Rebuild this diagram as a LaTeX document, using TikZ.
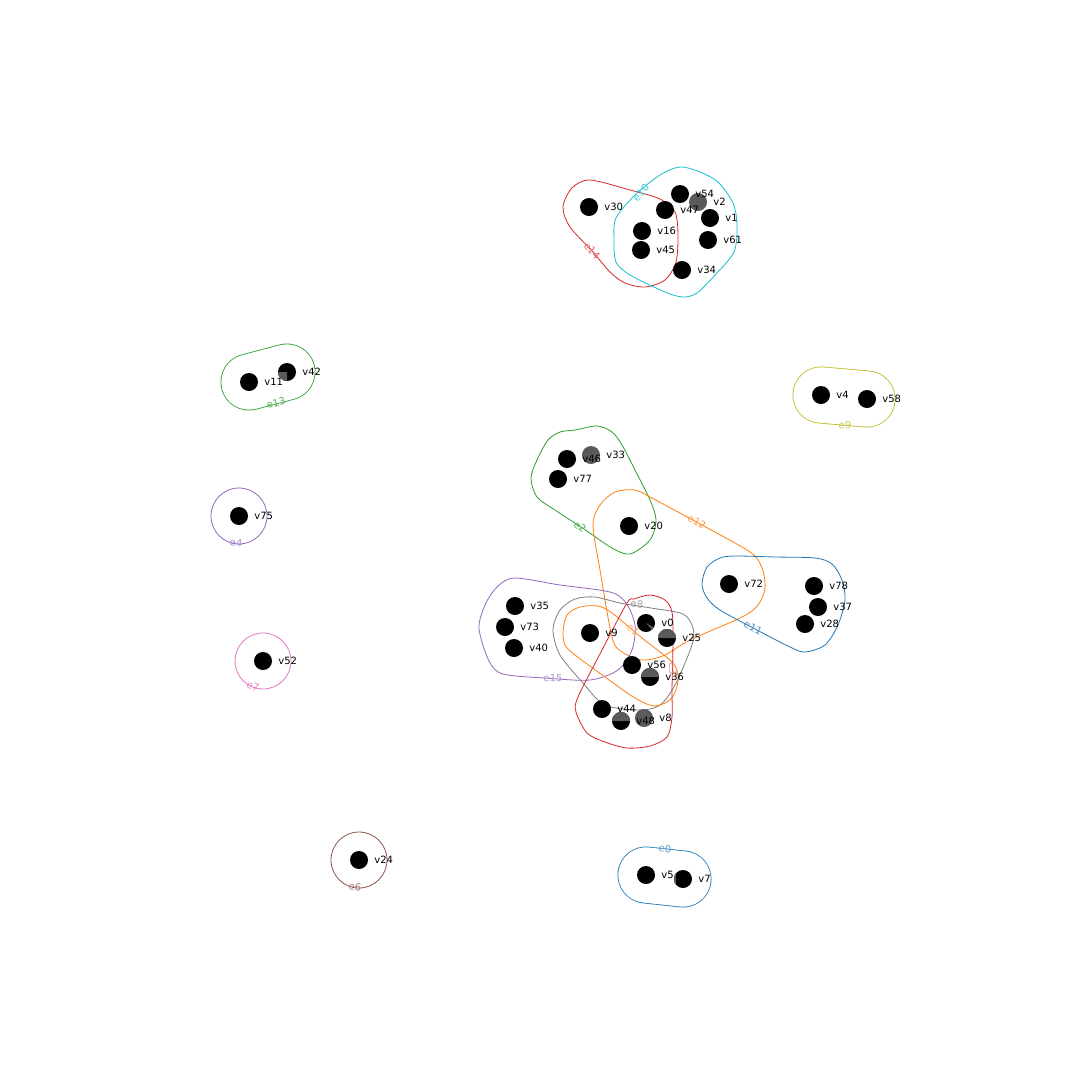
\documentclass[tikz,border=0pt]{standalone}
\usepackage{fontspec}
\setmainfont{DejaVu Sans}
\usetikzlibrary{backgrounds}
\definecolor{tblue}{HTML}{1F77B4}
\definecolor{torange}{HTML}{FF7F0E}
\definecolor{tgreen}{HTML}{2CA02C}
\definecolor{tred}{HTML}{D62728}
\definecolor{tpurple}{HTML}{9467BD}
\definecolor{tbrown}{HTML}{8C564B}
\definecolor{tpink}{HTML}{E377C2}
\definecolor{tgray}{HTML}{7F7F7F}
\definecolor{tolive}{HTML}{BCBD22}
\definecolor{tcyan}{HTML}{17BECF}
\definecolor{vgray}{HTML}{5A5A5A}
\begin{document}
\begin{tikzpicture}[x=1pt,y=-1pt,
  vtx/.style={circle,fill=black,minimum size=18pt,inner sep=0pt},
  gvtx/.style={circle,fill=vgray,minimum size=18pt,inner sep=0pt},
  vl/.style={font=\fontsize{10}{12}\selectfont,inner sep=1pt,anchor=west},
  hl/.style={font=\fontsize{10}{12}\selectfont,inner sep=0pt},
  hedge/.style={line width=0.8pt},
  stad/.style={line width=57pt,line cap=round},
  stadin/.style={line width=55.4pt,line cap=round,white}]
\useasboundingbox (0,0) rectangle (1080,1080);

% vertices
\node[vtx] (v30) at (589,207) {};
\node[vtx] (v54) at (680,194) {};
\node[gvtx] (v2) at (698,202) {};
\node[vtx] (v47) at (665,210) {};
\node[vtx] (v1) at (710,218) {};
\node[vtx] (v16) at (642,231) {};
\node[vtx] (v61) at (708,240) {};
\node[vtx] (v45) at (641,250) {};
\node[vtx] (v34) at (682,270) {};
\node[vtx] (v11) at (249,382) {};
\node[vtx] (v42) at (287,372) {};
\node[vtx] (v4) at (821,395) {};
\node[vtx] (v58) at (867,399) {};
\node[vtx] (v46) at (567,459) {};
\node[gvtx] (v33) at (591,455) {};
\node[vtx] (v77) at (558,479) {};
\node[vtx] (v75) at (239,516) {};
\node[vtx] (v20) at (629,526) {};
\node[vtx] (v72) at (729,584) {};
\node[vtx] (v78) at (814,586) {};
\node[vtx] (v37) at (818,607) {};
\node[vtx] (v28) at (805,624) {};
\node[vtx] (v35) at (515,606) {};
\node[vtx] (v73) at (505,627) {};
\node[vtx] (v40) at (514,648) {};
\node[vtx] (v9) at (590,633) {};
\node[vtx] (v0) at (646,623) {};
\node[vtx] (v25) at (667,638) {};
\node[vtx] (v56) at (632,665) {};
\node[vtx] (v36) at (650,677) {};
\node[vtx] (v44) at (602,709) {};
\node[vtx] (v48) at (621,721) {};
\node[gvtx] (v8) at (644,718) {};
\node[vtx] (v52) at (263,661) {};
\node[vtx] (v24) at (359,860) {};
\node[vtx] (v5) at (646,875) {};
\node[vtx] (v7) at (683,879) {};

% partial shading of some vertices
\fill[vgray] (v25.center) ++(-9,0) arc[start angle=180,end angle=360,radius=9] -- cycle;
\fill[vgray] (v36.center) ++(-9,0) arc[start angle=180,end angle=360,radius=9] -- cycle;
\fill[vgray] (v48.center) ++(-9,0) arc[start angle=180,end angle=360,radius=9] -- cycle;
\fill[vgray] (v42.center) -- ++(-9,0) arc[start angle=180,end angle=90,radius=9] -- cycle;
\fill[vgray] (v0.center) -- ++(30:9) arc[start angle=30,end angle=50,radius=9] -- cycle;
\fill[vgray] (v7.center) ++(-7,-6) arc[start angle=220,end angle=140,radius=9] -- cycle;

% vertex labels
\node[vl] (t30) at ([xshift=5pt]v30.east) {v30};
\node[vl] (t54) at ([xshift=5pt]v54.east) {v54};
\node[vl] (t2) at ([xshift=5pt]v2.east) {v2};
\node[vl] (t47) at ([xshift=5pt]v47.east) {v47};
\node[vl] (t1) at ([xshift=5pt]v1.east) {v1};
\node[vl] (t16) at ([xshift=5pt]v16.east) {v16};
\node[vl] (t61) at ([xshift=5pt]v61.east) {v61};
\node[vl] (t45) at ([xshift=5pt]v45.east) {v45};
\node[vl] (t34) at ([xshift=5pt]v34.east) {v34};
\node[vl] (t11) at ([xshift=5pt]v11.east) {v11};
\node[vl] (t42) at ([xshift=5pt]v42.east) {v42};
\node[vl] (t4) at ([xshift=5pt]v4.east) {v4};
\node[vl] (t58) at ([xshift=5pt]v58.east) {v58};
\node[vl] (t46) at ([xshift=5pt]v46.east) {v46};
\node[vl] (t33) at ([xshift=5pt]v33.east) {v33};
\node[vl] (t77) at ([xshift=5pt]v77.east) {v77};
\node[vl] (t75) at ([xshift=5pt]v75.east) {v75};
\node[vl] (t20) at ([xshift=5pt]v20.east) {v20};
\node[vl] (t72) at ([xshift=5pt]v72.east) {v72};
\node[vl] (t78) at ([xshift=5pt]v78.east) {v78};
\node[vl] (t37) at ([xshift=5pt]v37.east) {v37};
\node[vl] (t28) at ([xshift=5pt]v28.east) {v28};
\node[vl] (t35) at ([xshift=5pt]v35.east) {v35};
\node[vl] (t73) at ([xshift=5pt]v73.east) {v73};
\node[vl] (t40) at ([xshift=5pt]v40.east) {v40};
\node[vl] (t9) at ([xshift=5pt]v9.east) {v9};
\node[vl] (t0) at ([xshift=5pt]v0.east) {v0};
\node[vl] (t25) at ([xshift=5pt]v25.east) {v25};
\node[vl] (t56) at ([xshift=5pt]v56.east) {v56};
\node[vl] (t36) at ([xshift=5pt]v36.east) {v36};
\node[vl] (t44) at ([xshift=5pt]v44.east) {v44};
\node[vl] (t48) at ([xshift=5pt]v48.east) {v48};
\node[vl] (t8) at ([xshift=5pt]v8.east) {v8};
\node[vl] (t52) at ([xshift=5pt]v52.east) {v52};
\node[vl] (t24) at ([xshift=5pt]v24.east) {v24};
\node[vl] (t5) at ([xshift=5pt]v5.east) {v5};
\node[vl] (t7) at ([xshift=5pt]v7.east) {v7};

\begin{pgfonlayer}{background}
\fill[white] (0,0) rectangle (1080,1080);
% two-vertex hyperedges (stadiums)
\draw[stad,tgreen] (v11.center) -- (v42.center);
\draw[stadin] (v11.center) -- (v42.center);
\draw[stad,tolive] (v4.center) -- (v58.center);
\draw[stadin] (v4.center) -- (v58.center);
\draw[stad,tblue] (v5.center) -- (v7.center);
\draw[stadin] (v5.center) -- (v7.center);
% single-vertex hyperedges
\draw[hedge,tpurple] (v75.center) circle[radius=28];
\draw[hedge,tpink] (v52.center) circle[radius=28];
\draw[hedge,tbrown] (v24.center) circle[radius=28];
% e14
\draw[hedge,tred] plot[smooth cycle,tension=0.5] coordinates {(563,207) (572,188) (590,180) (630,190) (660,199) (675,212) (678,235) (676,262) (665,280) (645,287) (625,283) (610,272) (593,252) (570,227)};
% e10
\draw[hedge,tcyan] plot[smooth cycle,tension=0.5] coordinates {(680,167) (700,172) (718,182) (733,203) (737,225) (734,252) (715,275) (697,293) (683,297) (665,292) (630,275) (616,262) (614,240) (616,218) (635,195) (660,175)};
% e2
\draw[hedge,tgreen] plot[smooth cycle,tension=0.5] coordinates {(548,440) (560,432) (575,430) (597,426) (612,432) (622,445) (636,472) (650,500) (656,520) (650,540) (630,554) (612,548) (584,529) (555,510) (537,497) (531,478) (537,460)};
% e12
\draw[hedge,torange] plot[smooth cycle,tension=0.5] coordinates {(593,525) (600,505) (615,492) (635,490) (650,497) (700,524) (750,552) (762,568) (765,588) (758,605) (742,617) (690,640) (665,655) (643,660) (622,652) (612,637) (600,570)};
% e11
\draw[hedge,tblue] plot[smooth cycle,tension=0.5] coordinates {(702,584) (707,567) (720,558) (735,556) (775,557) (815,558) (832,564) (842,580) (845,600) (838,625) (825,645) (805,652) (790,647) (755,629) (720,610) (707,598)};
% e15
\draw[hedge,tpurple] plot[smooth cycle,tension=0.5] coordinates {(479,628) (486,603) (498,586) (515,578) (560,585) (610,592) (626,603) (635,625) (632,650) (618,670) (590,680) (545,678) (503,674) (489,661)};
% e8
\draw[hedge,tgray] plot[smooth cycle,tension=0.5] coordinates {(553,630) (560,610) (575,599) (595,597) (620,603) (651,608) (683,614) (693,628) (692,645) (675,685) (660,705) (640,710) (605,705) (583,683) (560,655)};
% e1
\draw[hedge,torange] plot[smooth cycle,tension=0.5] coordinates {(563,632) (567,615) (580,607) (598,606) (612,613) (642,638) (673,663) (678,680) (672,698) (655,706) (635,698) (605,677) (575,655) (565,645)};
% e3
\draw[hedge,tred] plot[smooth cycle,tension=0.5] coordinates {(634,599) (650,595) (665,600) (672,612) (673,640) (672,690) (672,717) (667,737) (650,746) (627,748) (605,742) (587,733) (576,712) (578,697) (602,650) (627,603)};
\end{pgfonlayer}

% hyperedge labels
\node[hl,text=tred!70!white,rotate=-48] (le14) at (592,251) {e14};
\node[hl,text=tcyan!80!white,rotate=50] (le10) at (641,193) {e10};
\node[hl,text=tgreen!80!white,rotate=14] (le13) at (276,403) {e13};
\node[hl,text=tolive!80!white,rotate=-5] (le9) at (845,425) {e9};
\node[hl,text=tgreen!80!white,rotate=-34] (le2) at (580,527) {e2};
\node[hl,text=torange!80!white,rotate=-29] (le12) at (697,522) {e12};
\node[hl,text=tblue!80!white,rotate=-28] (le11) at (753,628) {e11};
\node[hl,text=tpurple!70!white,rotate=-3] (le15) at (553,678) {e15};
\node[hl,text=tgray!70!white,rotate=-10] (le8) at (637,604) {e8};
\node[hl,text=torange!70!white,rotate=-39] (le1) at (633,630) {e1};
\node[hl,text=tred!50!white,rotate=-90] (le3) at (673,669) {e3};
\node[hl,text=tblue!70!white,rotate=-6] (le0) at (665,849) {e0};
\node[hl,text=tpurple!80!white,rotate=-6] (le4) at (236,543) {e4};
\node[hl,text=tpink!90!white,rotate=-20] (le7) at (253,686) {e7};
\node[hl,text=tbrown!80!white,rotate=-8] (le6) at (355,887) {e6};
\end{tikzpicture}
\end{document}
